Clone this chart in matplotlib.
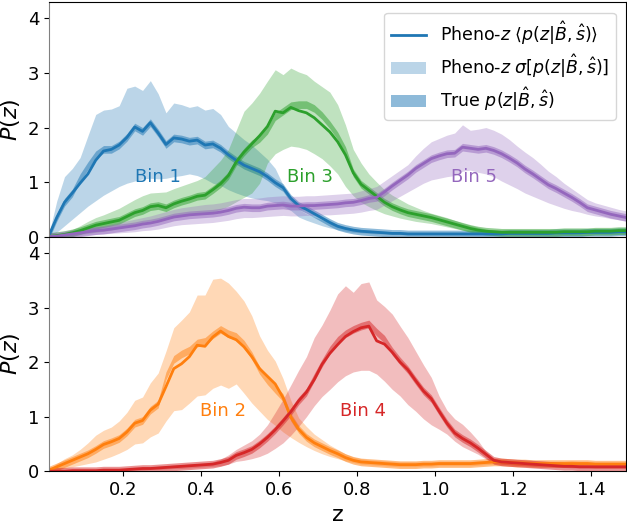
import numpy as np
import matplotlib
matplotlib.use("Agg")
import matplotlib.pyplot as plt
from matplotlib.lines import Line2D
from matplotlib.patches import Patch

# redshift bin centres (step 0.02)
z = np.round(np.arange(0.01, 1.50, 0.02), 2)

# ---- Bin 1 (top) ----
b1_mean = [0.02, 0.35, 0.63, 0.80, 0.98, 1.15, 1.40, 1.57, 1.60, 1.68,
           1.82, 2.01, 1.93, 2.09, 1.90, 1.69, 1.81, 1.79, 1.75, 1.77,
           1.68, 1.70, 1.62, 1.50, 1.40, 1.31, 1.25, 1.19, 1.10, 0.99,
           0.90, 0.70, 0.57, 0.50, 0.42, 0.34, 0.26, 0.19, 0.15, 0.12,
           0.10, 0.09, 0.08, 0.07, 0.06, 0.06, 0.05, 0.05, 0.05, 0.05,
           0.05, 0.05, 0.05, 0.05, 0.05, 0.05, 0.05, 0.05, 0.05, 0.06,
           0.06, 0.06, 0.06, 0.06, 0.06, 0.07, 0.07, 0.07, 0.07, 0.08,
           0.08, 0.08, 0.08, 0.09, 0.09]
b1_hi = [0.05, 0.65, 1.10, 1.25, 1.45, 1.85, 2.24, 2.32, 2.34, 2.40,
         2.72, 2.76, 2.68, 2.86, 2.62, 2.27, 2.45, 2.42, 2.37, 2.40,
         2.32, 2.35, 2.24, 2.02, 1.90, 1.78, 1.68, 1.55, 1.42, 1.25,
         0.95, 0.62, 0.50, 0.42, 0.36, 0.31, 0.26, 0.22, 0.18, 0.15,
         0.13, 0.12, 0.11, 0.10, 0.09, 0.09, 0.08, 0.08, 0.08, 0.08,
         0.08, 0.08, 0.08, 0.08, 0.08, 0.08, 0.08, 0.08, 0.08, 0.09,
         0.09, 0.09, 0.09, 0.09, 0.09, 0.10, 0.10, 0.10, 0.10, 0.11,
         0.11, 0.11, 0.11, 0.12, 0.12]
b1_lo = [0.00, 0.08, 0.20, 0.32, 0.44, 0.56, 0.66, 0.76, 0.84, 0.92,
         0.98, 1.02, 1.06, 1.07, 1.06, 1.07, 1.10, 1.12, 1.15, 1.12,
         1.06, 0.98, 0.94, 0.86, 0.80, 0.75, 0.71, 0.68, 0.66, 0.62,
         0.56, 0.48, 0.36, 0.30, 0.25, 0.20, 0.16, 0.13, 0.10, 0.08,
         0.07, 0.06, 0.05, 0.05, 0.04, 0.04, 0.03, 0.03, 0.03, 0.03,
         0.03, 0.03, 0.03, 0.03, 0.03, 0.03, 0.03, 0.03, 0.04, 0.04,
         0.04, 0.04, 0.04, 0.04, 0.05, 0.05, 0.05, 0.05, 0.06, 0.06,
         0.06, 0.06, 0.07, 0.07, 0.07]
b1_true = list(b1_mean)
b1_true[4:8] = [1.08, 1.30, 1.50, 1.60]

# ---- Bin 3 (top) ----
b3_mean = [0.00, 0.02, 0.04, 0.07, 0.11, 0.16, 0.21, 0.24, 0.27, 0.30,
           0.37, 0.44, 0.48, 0.55, 0.57, 0.53, 0.60, 0.65, 0.69, 0.74,
           0.76, 0.86, 0.97, 1.12, 1.37, 1.55, 1.70, 1.85, 2.02, 2.30,
           2.27, 2.37, 2.31, 2.27, 2.18, 2.05, 1.92, 1.74, 1.50, 1.17,
           0.96, 0.85, 0.74, 0.63, 0.55, 0.49, 0.44, 0.41, 0.38, 0.35,
           0.31, 0.27, 0.23, 0.19, 0.15, 0.12, 0.10, 0.09, 0.08, 0.08,
           0.08, 0.08, 0.08, 0.08, 0.08, 0.08, 0.09, 0.09, 0.09, 0.09,
           0.10, 0.10, 0.10, 0.11, 0.11]
b3_hi = [0.00, 0.04, 0.08, 0.13, 0.20, 0.28, 0.35, 0.40, 0.46, 0.52,
         0.60, 0.68, 0.75, 0.80, 0.81, 0.82, 0.88, 0.93, 0.98, 1.03,
         1.10, 1.25, 1.40, 1.60, 1.95, 2.30, 2.45, 2.63, 2.85, 3.06,
         2.97, 3.09, 3.02, 2.97, 2.85, 2.75, 2.65, 2.42, 2.05, 1.60,
         1.35, 1.15, 1.00, 0.86, 0.76, 0.68, 0.60, 0.54, 0.48, 0.43,
         0.39, 0.35, 0.30, 0.25, 0.21, 0.17, 0.14, 0.12, 0.11, 0.10,
         0.10, 0.10, 0.10, 0.10, 0.10, 0.10, 0.11, 0.11, 0.11, 0.11,
         0.12, 0.12, 0.12, 0.13, 0.13]
b3_lo = [0.00, 0.00, 0.01, 0.02, 0.04, 0.06, 0.08, 0.10, 0.12, 0.15,
         0.18, 0.22, 0.26, 0.29, 0.31, 0.32, 0.35, 0.37, 0.39, 0.41,
         0.43, 0.46, 0.50, 0.56, 0.64, 0.72, 0.80, 0.98, 1.35, 1.52,
         1.60, 1.66, 1.64, 1.60, 1.52, 1.43, 1.30, 1.15, 0.92, 0.75,
         0.63, 0.55, 0.48, 0.42, 0.38, 0.34, 0.31, 0.28, 0.26, 0.24,
         0.21, 0.18, 0.15, 0.12, 0.10, 0.08, 0.07, 0.06, 0.06, 0.06,
         0.06, 0.06, 0.06, 0.06, 0.06, 0.06, 0.07, 0.07, 0.07, 0.07,
         0.08, 0.08, 0.08, 0.09, 0.09]
b3_true = list(b3_mean)
b3_true[27:39] = [1.80, 1.95, 2.20, 2.30, 2.40, 2.42, 2.42, 2.35, 2.22,
                  2.05, 1.85, 1.58]

# ---- Bin 5 (top) ----
b5_mean = [0.00, 0.01, 0.03, 0.05, 0.07, 0.09, 0.11, 0.12, 0.14, 0.16,
           0.18, 0.20, 0.23, 0.25, 0.28, 0.32, 0.36, 0.38, 0.40, 0.41,
           0.42, 0.43, 0.45, 0.48, 0.52, 0.54, 0.53, 0.53, 0.56, 0.57,
           0.58, 0.56, 0.56, 0.57, 0.57, 0.58, 0.59, 0.60, 0.62, 0.63,
           0.66, 0.70, 0.72, 0.82, 0.93, 1.03, 1.13, 1.25, 1.34, 1.43,
           1.48, 1.52, 1.53, 1.64, 1.62, 1.60, 1.62, 1.58, 1.52, 1.44,
           1.35, 1.24, 1.15, 1.05, 0.95, 0.88, 0.80, 0.72, 0.63, 0.53,
           0.49, 0.45, 0.41, 0.38, 0.35]
b5_hi = [0.00, 0.03, 0.06, 0.09, 0.12, 0.15, 0.18, 0.20, 0.23, 0.26,
         0.29, 0.32, 0.35, 0.38, 0.42, 0.46, 0.50, 0.53, 0.55, 0.57,
         0.59, 0.60, 0.62, 0.65, 0.68, 0.70, 0.70, 0.71, 0.73, 0.74,
         0.75, 0.74, 0.74, 0.75, 0.75, 0.76, 0.77, 0.78, 0.79, 0.80,
         0.84, 0.88, 0.92, 1.02, 1.12, 1.22, 1.32, 1.48, 1.62, 1.74,
         1.80, 1.86, 1.90, 2.05, 1.95, 1.97, 2.00, 1.95, 1.88, 1.78,
         1.66, 1.55, 1.45, 1.33, 1.20, 1.10, 0.98, 0.88, 0.78, 0.68,
         0.62, 0.58, 0.54, 0.50, 0.47]
b5_lo = [0.00, 0.00, 0.01, 0.01, 0.02, 0.03, 0.04, 0.05, 0.06, 0.07,
         0.08, 0.09, 0.11, 0.12, 0.14, 0.17, 0.20, 0.22, 0.23, 0.24,
         0.25, 0.26, 0.28, 0.30, 0.33, 0.35, 0.35, 0.36, 0.37, 0.38,
         0.39, 0.38, 0.38, 0.39, 0.39, 0.40, 0.40, 0.41, 0.42, 0.43,
         0.45, 0.48, 0.50, 0.58, 0.66, 0.74, 0.82, 0.90, 0.98, 1.04,
         1.07, 1.10, 1.12, 1.20, 1.22, 1.18, 1.15, 1.10, 1.02, 0.95,
         0.88, 0.80, 0.74, 0.68, 0.62, 0.57, 0.52, 0.48, 0.45, 0.41,
         0.38, 0.36, 0.33, 0.31, 0.29]
b5_true = list(b5_mean)

# ---- Bin 2 (bottom) ----
b2_mean = [0.02, 0.08, 0.14, 0.20, 0.26, 0.32, 0.40, 0.49, 0.54, 0.60,
           0.72, 0.88, 0.93, 1.12, 1.23, 1.55, 1.88, 1.97, 2.10, 2.31,
           2.29, 2.46, 2.57, 2.47, 2.41, 2.28, 2.10, 1.88, 1.74, 1.60,
           1.35, 0.99, 0.77, 0.62, 0.52, 0.45, 0.38, 0.32, 0.25, 0.20,
           0.17, 0.16, 0.15, 0.14, 0.13, 0.12, 0.12, 0.12, 0.13, 0.13,
           0.14, 0.14, 0.14, 0.14, 0.14, 0.15, 0.16, 0.17, 0.17, 0.16,
           0.15, 0.15, 0.14, 0.14, 0.14, 0.14, 0.14, 0.14, 0.14, 0.14,
           0.13, 0.13, 0.13, 0.13, 0.13]
b2_hi = [0.02, 0.14, 0.23, 0.30, 0.40, 0.52, 0.66, 0.75, 0.81, 0.92,
         1.08, 1.30, 1.36, 1.62, 1.80, 2.20, 2.63, 2.77, 2.92, 3.23,
         3.23, 3.52, 3.54, 3.45, 3.30, 3.12, 2.85, 2.48, 2.22, 2.02,
         1.70, 1.30, 0.98, 0.82, 0.68, 0.58, 0.48, 0.40, 0.32, 0.26,
         0.23, 0.21, 0.20, 0.19, 0.18, 0.17, 0.17, 0.17, 0.17, 0.17,
         0.18, 0.18, 0.18, 0.18, 0.18, 0.19, 0.20, 0.21, 0.21, 0.20,
         0.19, 0.19, 0.18, 0.18, 0.18, 0.18, 0.18, 0.19, 0.18, 0.18,
         0.17, 0.17, 0.17, 0.17, 0.17]
b2_lo = [0.00, 0.02, 0.05, 0.08, 0.11, 0.14, 0.17, 0.22, 0.27, 0.33,
         0.40, 0.50, 0.52, 0.63, 0.70, 0.92, 1.11, 1.13, 1.25, 1.38,
         1.40, 1.52, 1.58, 1.52, 1.60, 1.43, 1.25, 1.10, 0.95, 0.84,
         0.72, 0.62, 0.53, 0.45, 0.38, 0.32, 0.27, 0.23, 0.19, 0.16,
         0.13, 0.12, 0.11, 0.10, 0.09, 0.08, 0.08, 0.08, 0.09, 0.09,
         0.10, 0.10, 0.10, 0.10, 0.10, 0.11, 0.12, 0.13, 0.13, 0.12,
         0.11, 0.11, 0.10, 0.10, 0.10, 0.10, 0.10, 0.10, 0.10, 0.10,
         0.09, 0.09, 0.09, 0.09, 0.09]
b2_true = list(b2_mean)
b2_true[15:30] = [1.75, 2.05, 2.15, 2.22, 2.35, 2.38, 2.50, 2.60, 2.52,
                  2.47, 2.33, 2.12, 1.85, 1.66, 1.50]

# ---- Bin 4 (bottom) ----
b4_mean = [0.00, 0.00, 0.00, 0.01, 0.01, 0.01, 0.01, 0.02, 0.02, 0.02,
           0.03, 0.04, 0.05, 0.05, 0.06, 0.07, 0.08, 0.09, 0.10, 0.11,
           0.12, 0.13, 0.16, 0.20, 0.29, 0.34, 0.40, 0.50, 0.62, 0.76,
           0.92, 1.09, 1.29, 1.45, 1.68, 1.96, 2.16, 2.32, 2.47, 2.56,
           2.63, 2.66, 2.39, 2.33, 2.18, 2.00, 1.86, 1.66, 1.47, 1.33,
           1.10, 0.88, 0.70, 0.60, 0.52, 0.42, 0.31, 0.20, 0.17, 0.16,
           0.15, 0.14, 0.13, 0.12, 0.11, 0.10, 0.09, 0.09, 0.08, 0.08,
           0.08, 0.08, 0.08, 0.08, 0.08]
b4_hi = [0.00, 0.01, 0.01, 0.01, 0.02, 0.02, 0.02, 0.03, 0.03, 0.04,
         0.05, 0.06, 0.07, 0.08, 0.09, 0.10, 0.11, 0.12, 0.13, 0.14,
         0.15, 0.17, 0.22, 0.30, 0.40, 0.48, 0.56, 0.68, 0.85, 1.08,
         1.32, 1.58, 1.85, 2.10, 2.45, 2.68, 2.95, 3.25, 3.40, 3.28,
         3.44, 3.47, 3.14, 3.02, 2.88, 2.66, 2.45, 2.20, 1.95, 1.72,
         1.38, 1.12, 0.96, 0.86, 0.72, 0.56, 0.36, 0.24, 0.20, 0.19,
         0.18, 0.17, 0.16, 0.15, 0.14, 0.13, 0.12, 0.11, 0.11, 0.10,
         0.10, 0.10, 0.10, 0.10, 0.10]
b4_lo = [0.00, 0.00, 0.00, 0.00, 0.00, 0.00, 0.00, 0.00, 0.01, 0.01,
         0.01, 0.02, 0.02, 0.03, 0.03, 0.04, 0.05, 0.05, 0.06, 0.07,
         0.08, 0.09, 0.10, 0.13, 0.18, 0.20, 0.23, 0.27, 0.33, 0.42,
         0.52, 0.66, 0.82, 1.00, 1.20, 1.37, 1.50, 1.64, 1.75, 1.82,
         1.85, 1.85, 1.78, 1.65, 1.50, 1.38, 1.22, 1.10, 0.96, 0.85,
         0.77, 0.68, 0.55, 0.45, 0.38, 0.31, 0.22, 0.15, 0.13, 0.12,
         0.11, 0.10, 0.09, 0.08, 0.08, 0.07, 0.07, 0.06, 0.06, 0.06,
         0.06, 0.06, 0.06, 0.06, 0.06]
b4_true = list(b4_mean)
b4_true[34:46] = [1.72, 1.98, 2.22, 2.40, 2.52, 2.60, 2.66, 2.70, 2.55,
                  2.42, 2.20, 2.02]

true_halfwidth = 0.07

top_bins = [("Bin 1", "#1f77b4", b1_mean, b1_lo, b1_hi, b1_true, 0.29),
            ("Bin 3", "#2ca02c", b3_mean, b3_lo, b3_hi, b3_true, 0.68),
            ("Bin 5", "#9467bd", b5_mean, b5_lo, b5_hi, b5_true, 1.10)]
bot_bins = [("Bin 2", "#ff7f0e", b2_mean, b2_lo, b2_hi, b2_true, 0.455),
            ("Bin 4", "#d62728", b4_mean, b4_lo, b4_hi, b4_true, 0.815)]
label_y = 1.1

fig, axes = plt.subplots(2, 1, sharex=True, figsize=(6.27, 5.23), dpi=100)
fig.subplots_adjust(left=0.078, right=0.999, top=0.996, bottom=0.099, hspace=0)

for ax, bins in zip(axes, [top_bins, bot_bins]):
    for name, col, mean, lo, hi, tr, lx in bins:
        tr = np.array(tr)
        ax.fill_between(z, lo, hi, color=col, alpha=0.3, lw=0)
        ax.fill_between(z, tr - true_halfwidth, tr + true_halfwidth,
                        color=col, alpha=0.5, lw=0)
        ax.plot(z, mean, color=col, lw=2)
        ax.text(lx, label_y, name, color=col, fontsize=13,
                ha="center", va="center")
    ax.set_ylim(0, 4.3)
    ax.set_yticks([0, 1, 2, 3, 4])
    ax.set_ylabel("$P(z)$", fontsize=16)
    ax.tick_params(labelsize=13)
    ax.spines["left"].set_color("0.5")

axes[0].tick_params(axis="x", length=0)
axes[1].set_xlim(0.01, 1.49)
axes[1].set_xticks([0.2, 0.4, 0.6, 0.8, 1.0, 1.2, 1.4])
axes[1].set_xlabel("z", fontsize=16)

handles = [Line2D([], [], color="#1f77b4", lw=2),
           Patch(facecolor="#1f77b4", alpha=0.3),
           Patch(facecolor="#1f77b4", alpha=0.5)]
labels = [r"Pheno-$z$ $\langle p(z|\hat{B},\hat{s})\rangle$",
          r"Pheno-$z$ $\sigma[p(z|\hat{B},\hat{s})]$",
          r"True $p(z|\hat{B},\hat{s})$"]
axes[0].legend(handles, labels, loc="upper right", fontsize=12.5,
               labelspacing=0.3, borderaxespad=0.6)

fig.savefig("out.png", dpi=100)
